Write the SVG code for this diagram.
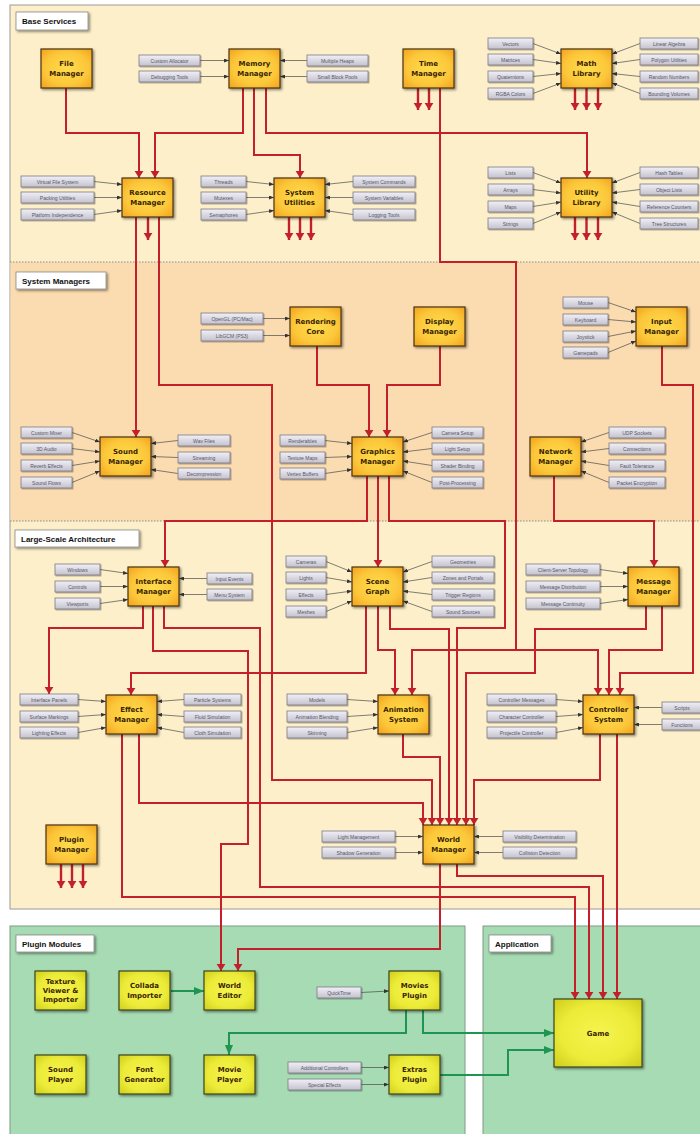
<svg xmlns="http://www.w3.org/2000/svg" width="700" height="1134" viewBox="0 0 700 1134">
<style>
.nd rect{fill:url(#og);stroke:#4a3514;stroke-width:1.2;filter:url(#sh)}
.gn rect{fill:url(#yg);stroke:#3b4520;stroke-width:1.2;filter:url(#sh)}
.nd text,.gn text{font-family:"DejaVu Sans",sans-serif;font-weight:bold;font-size:7px;fill:#3a2400;text-anchor:middle}
.it rect{fill:url(#gg);stroke:#7b7986;stroke-width:0.8;filter:url(#sh2)}
.it text{font-family:"Liberation Sans",sans-serif;font-size:5px;fill:#55556a;text-anchor:middle}
.hd rect{fill:#fff;stroke:#8a8a8a;stroke-width:0.8;filter:url(#sh)}
.hd text{font-family:"Liberation Sans",sans-serif;font-weight:bold;font-size:8px;fill:#111}
.r{fill:none;stroke:#c3202b;stroke-width:2;marker-end:url(#ra)}
.s{fill:none;stroke:#c3202b;stroke-width:2.4;marker-end:url(#ra)}
.g{fill:none;stroke:#1e9550;stroke-width:2;marker-end:url(#ka)}
.l{fill:none;stroke:#4a4a4a;stroke-width:0.7;marker-end:url(#la)}
</style>
<defs>
<radialGradient id="og" cx="50%" cy="50%" r="70%"><stop offset="0" stop-color="#ffdc4c"/><stop offset="0.6" stop-color="#fcc73a"/><stop offset="1" stop-color="#f2a21c"/></radialGradient>
<radialGradient id="yg" cx="50%" cy="50%" r="70%"><stop offset="0" stop-color="#f6f44e"/><stop offset="0.6" stop-color="#eceb38"/><stop offset="1" stop-color="#cfcd1c"/></radialGradient>
<linearGradient id="gg" x1="0" y1="0" x2="0" y2="1"><stop offset="0" stop-color="#f1f0f7"/><stop offset="1" stop-color="#c4c2cd"/></linearGradient>
<filter id="sh" x="-20%" y="-20%" width="150%" height="150%"><feDropShadow dx="1.5" dy="1.5" stdDeviation="1" flood-color="#000" flood-opacity="0.45"/></filter>
<filter id="sh2" x="-20%" y="-30%" width="150%" height="180%"><feDropShadow dx="1" dy="1" stdDeviation="0.6" flood-color="#000" flood-opacity="0.35"/></filter>
<marker id="ra" viewBox="0 0 8 10" refX="8" refY="5" markerWidth="7" markerHeight="10" markerUnits="userSpaceOnUse" orient="auto"><path d="M0,0 L8,5 L0,10 Z" fill="#c3202b" transform="rotate(0)"/></marker>
<marker id="ka" viewBox="0 0 10 8" refX="10" refY="4" markerWidth="10" markerHeight="8" markerUnits="userSpaceOnUse" orient="auto"><path d="M0,0 L10,4 L0,8 Z" fill="#1e9550"/></marker>
<marker id="la" viewBox="0 0 5 4" refX="5" refY="2" markerWidth="5" markerHeight="4" markerUnits="userSpaceOnUse" orient="auto"><path d="M0,0 L5,2 L0,4 Z" fill="#333"/></marker>
</defs>
<rect width="700" height="1134" fill="#fff"/>
<g id="panels">
<rect x="10" y="5" width="700" height="904" fill="#fcefc9" stroke="#9a9a9a"/>
<rect x="10.5" y="262" width="700" height="259" fill="#fbdcb0"/>
<path d="M10,262 H700 M10,521 H700" stroke="#8c8c8c" stroke-width="1" stroke-dasharray="1.5 1.5"/>
<rect x="10" y="926" width="455" height="220" fill="#a7dbb3" stroke="#7f9c86"/>
<rect x="483" y="926" width="230" height="220" fill="#a7dbb3" stroke="#7f9c86"/>
</g>
<g id="headers">
<g id="h-base" class="hd"><rect x="16" y="12" width="72" height="18"/><text x="22" y="24">Base Services</text></g>
<g id="h-sys" class="hd"><rect x="16" y="272" width="90" height="17"/><text x="22" y="284">System Managers</text></g>
<g id="h-large" class="hd"><rect x="15" y="530" width="124" height="17"/><text x="21" y="542">Large-Scale Architecture</text></g>
<g id="h-plugin" class="hd"><rect x="16" y="935" width="78" height="17"/><text x="22" y="947">Plugin Modules</text></g>
<g id="h-app" class="hd"><rect x="489" y="935" width="62" height="17"/><text x="495" y="947">Application</text></g>
</g>
<g id="connectors">
<path class="r" d="M66,88 V133 H139 V178"/>
<path class="r" d="M243,88 V133 H155 V178"/>
<path class="r" d="M254,88 V155 H300 V178"/>
<path class="r" d="M266,88 V133 H587 V178"/>
<path class="r" d="M440,88 V262 H516 V650 H412 V695"/>
<path class="r" d="M516,650 H598 V695"/>
<path class="s" d="M418,88 V110"/><path class="s" d="M429,88 V110"/>
<path class="s" d="M575,88 V110"/><path class="s" d="M586.5,88 V110"/><path class="s" d="M598,88 V110"/>
<path class="s" d="M148,217 V240"/>
<path class="s" d="M289,217 V240"/><path class="s" d="M300,217 V240"/><path class="s" d="M311,217 V240"/>
<path class="s" d="M575,217 V240"/><path class="s" d="M586.5,217 V240"/><path class="s" d="M598,217 V240"/>
<path class="s" d="M61,864 V888"/><path class="s" d="M72,864 V888"/><path class="s" d="M83,864 V888"/>
<path class="r" d="M136,217 V437"/>
<path class="r" d="M159,217 V385 H272 V780 H432 V825"/>
<path class="r" d="M317,346 V385 H369 V437"/>
<path class="r" d="M440,346 V385 H387 V437"/>
<path class="r" d="M662,346 V385 H693 V673 H620 V695"/>
<path class="r" d="M367,476 V521 H165 V567"/>
<path class="r" d="M378,476 V567"/>
<path class="r" d="M389,476 V521 H505 V628 H457 V825"/>
<path class="r" d="M554,476 V521 H654 V567"/>
<path class="r" d="M143,606 V628 H49 V694"/>
<path class="r" d="M153,606 V651 H248 V844 H221 V971"/>
<path class="r" d="M164,606 V628 H260 V887 H589 V999"/>
<path class="r" d="M366,606 V673 H131 V695"/>
<path class="r" d="M378,606 V650 H395 V695"/>
<path class="r" d="M390,606 V629 H449 V825"/>
<path class="r" d="M646,606 V629 H535 V673 H466 V825"/>
<path class="r" d="M662,606 V650 H609 V695"/>
<path class="r" d="M122,734 V897 H575 V999"/>
<path class="r" d="M139,734 V803 H423 V825"/>
<path class="r" d="M403,734 V757 H440 V825"/>
<path class="r" d="M600,734 V780 H474 V825"/>
<path class="r" d="M617,734 V999"/>
<path class="r" d="M440,864 V949 H238 V971"/>
<path class="r" d="M457,864 V876 H603 V999"/>
<path class="g" d="M171,991 H204"/>
<path class="g" d="M406,1010 V1033 H229 V1055"/>
<path class="g" d="M423,1010 V1033 H554"/>
<path class="g" d="M440,1075 H508 V1050 H554"/>
<path class="l" d="M200,60.5 L229,60.5"/><path class="l" d="M200,76.5 L229,76.5"/>
<path class="l" d="M307,60.5 L280,60.5"/><path class="l" d="M307,76.5 L280,76.5"/>
<path class="l" d="M533,43.5 L561,54"/><path class="l" d="M533,59.5 L561,63.5"/><path class="l" d="M533,76.5 L561,73.5"/><path class="l" d="M533,93.5 L561,83"/>
<path class="l" d="M640,43.5 L612,54"/><path class="l" d="M640,59.5 L612,63.5"/><path class="l" d="M640,76.5 L612,73.5"/><path class="l" d="M640,93.5 L612,83"/>
<path class="l" d="M94,181.5 L122,184.5"/><path class="l" d="M94,197.5 L122,197.5"/><path class="l" d="M94,214.5 L122,210.5"/>
<path class="l" d="M246,181.5 L274,184.5"/><path class="l" d="M246,197.5 L274,197.5"/><path class="l" d="M246,214.5 L274,210.5"/>
<path class="l" d="M353,181.5 L325,184.5"/><path class="l" d="M353,197.5 L325,197.5"/><path class="l" d="M353,214.5 L325,210.5"/>
<path class="l" d="M533,172.5 L561,183"/><path class="l" d="M533,189.5 L561,193"/><path class="l" d="M533,206.5 L561,202"/><path class="l" d="M533,223.5 L561,212"/>
<path class="l" d="M640,172.5 L612,183"/><path class="l" d="M640,189.5 L612,193"/><path class="l" d="M640,206.5 L612,202"/><path class="l" d="M640,223.5 L612,212"/>
<path class="l" d="M263,318.5 L290,318.5"/><path class="l" d="M263,335.5 L290,335.5"/>
<path class="l" d="M608,302.5 L636,312"/><path class="l" d="M608,319.5 L636,322"/><path class="l" d="M608,336.5 L636,331"/><path class="l" d="M608,352.5 L636,341"/>
<path class="l" d="M72,432.5 L100,442"/><path class="l" d="M72,448.5 L100,452"/><path class="l" d="M72,465.5 L100,461"/><path class="l" d="M72,482.5 L100,471"/>
<path class="l" d="M178,440.5 L151,443.5"/><path class="l" d="M178,457.5 L151,456.5"/><path class="l" d="M178,473.5 L151,469.5"/>
<path class="l" d="M325,440.5 L352,443.5"/><path class="l" d="M325,457.5 L352,456.5"/><path class="l" d="M325,473.5 L352,469.5"/>
<path class="l" d="M432,432.5 L403,442"/><path class="l" d="M432,448.5 L403,452"/><path class="l" d="M432,465.5 L403,461"/><path class="l" d="M432,482.5 L403,471"/>
<path class="l" d="M609,432.5 L581,442"/><path class="l" d="M609,448.5 L581,452"/><path class="l" d="M609,465.5 L581,461"/><path class="l" d="M609,482.5 L581,471"/>
<path class="l" d="M100,569.5 L128,573.5"/><path class="l" d="M100,586.5 L128,586.5"/><path class="l" d="M100,603.5 L128,599.5"/>
<path class="l" d="M207,578.5 L179,578.5"/><path class="l" d="M207,594.5 L179,594.5"/>
<path class="l" d="M326,561.5 L352,572"/><path class="l" d="M326,577.5 L352,582"/><path class="l" d="M326,594.5 L352,591"/><path class="l" d="M326,611.5 L352,601"/>
<path class="l" d="M432,561.5 L403,572"/><path class="l" d="M432,577.5 L403,582"/><path class="l" d="M432,594.5 L403,591"/><path class="l" d="M432,611.5 L403,601"/>
<path class="l" d="M600,569.5 L628,573.5"/><path class="l" d="M600,586.5 L628,586.5"/><path class="l" d="M600,603.5 L628,599.5"/>
<path class="l" d="M78,699.5 L106,701.5"/><path class="l" d="M78,716.5 L106,714.5"/><path class="l" d="M78,732.5 L106,727.5"/>
<path class="l" d="M184,699.5 L157,701.5"/><path class="l" d="M184,716.5 L157,714.5"/><path class="l" d="M184,732.5 L157,727.5"/>
<path class="l" d="M347,699.5 L378,701.5"/><path class="l" d="M347,716.5 L378,714.5"/><path class="l" d="M347,732.5 L378,727.5"/>
<path class="l" d="M556,699.5 L583,701.5"/><path class="l" d="M556,716.5 L583,714.5"/><path class="l" d="M556,732.5 L583,727.5"/>
<path class="l" d="M662,707.5 L634,707.5"/><path class="l" d="M662,724.5 L634,724.5"/>
<path class="l" d="M395,836.5 L423,836.5"/><path class="l" d="M395,852.5 L423,852.5"/>
<path class="l" d="M503,836.5 L474,836.5"/><path class="l" d="M503,852.5 L474,852.5"/>
<path class="l" d="M361,992.5 L389,991"/>
<path class="l" d="M361,1067.5 L389,1067.5"/><path class="l" d="M361,1084.5 L389,1084.5"/>
</g>
<g id="file-manager" class="nd"><rect x="41" y="49" width="51" height="39"/><text x="66.5" y="66">File</text><text x="66.5" y="76">Manager</text></g>
<g id="memory-manager" class="nd"><rect x="229" y="49" width="51" height="39"/><text x="254.5" y="66">Memory</text><text x="254.5" y="76">Manager</text></g>
<g id="time-manager" class="nd"><rect x="403" y="49" width="51" height="39"/><text x="428.5" y="66">Time</text><text x="428.5" y="76">Manager</text></g>
<g id="math-library" class="nd"><rect x="561" y="49" width="51" height="39"/><text x="586.5" y="66">Math</text><text x="586.5" y="76">Library</text></g>
<g id="resource-manager" class="nd"><rect x="122" y="178" width="51" height="39"/><text x="147.5" y="195">Resource</text><text x="147.5" y="205">Manager</text></g>
<g id="system-utilities" class="nd"><rect x="274" y="178" width="51" height="39"/><text x="299.5" y="195">System</text><text x="299.5" y="205">Utilities</text></g>
<g id="utility-library" class="nd"><rect x="561" y="178" width="51" height="39"/><text x="586.5" y="195">Utility</text><text x="586.5" y="205">Library</text></g>
<g id="rendering-core" class="nd"><rect x="290" y="307" width="51" height="39"/><text x="315.5" y="324">Rendering</text><text x="315.5" y="334">Core</text></g>
<g id="display-manager" class="nd"><rect x="414" y="307" width="51" height="39"/><text x="439.5" y="324">Display</text><text x="439.5" y="334">Manager</text></g>
<g id="input-manager" class="nd"><rect x="636" y="307" width="51" height="39"/><text x="661.5" y="324">Input</text><text x="661.5" y="334">Manager</text></g>
<g id="sound-manager" class="nd"><rect x="100" y="437" width="51" height="39"/><text x="125.5" y="454">Sound</text><text x="125.5" y="464">Manager</text></g>
<g id="graphics-manager" class="nd"><rect x="352" y="437" width="51" height="39"/><text x="377.5" y="454">Graphics</text><text x="377.5" y="464">Manager</text></g>
<g id="network-manager" class="nd"><rect x="530" y="437" width="51" height="39"/><text x="555.5" y="454">Network</text><text x="555.5" y="464">Manager</text></g>
<g id="interface-manager" class="nd"><rect x="128" y="567" width="51" height="39"/><text x="153.5" y="584">Interface</text><text x="153.5" y="594">Manager</text></g>
<g id="scene-graph" class="nd"><rect x="352" y="567" width="51" height="39"/><text x="377.5" y="584">Scene</text><text x="377.5" y="594">Graph</text></g>
<g id="message-manager" class="nd"><rect x="628" y="567" width="51" height="39"/><text x="653.5" y="584">Message</text><text x="653.5" y="594">Manager</text></g>
<g id="effect-manager" class="nd"><rect x="106" y="695" width="51" height="39"/><text x="131.5" y="712">Effect</text><text x="131.5" y="722">Manager</text></g>
<g id="animation-system" class="nd"><rect x="378" y="695" width="51" height="39"/><text x="403.5" y="712">Animation</text><text x="403.5" y="722">System</text></g>
<g id="controller-system" class="nd"><rect x="583" y="695" width="51" height="39"/><text x="608.5" y="712">Controller</text><text x="608.5" y="722">System</text></g>
<g id="plugin-manager" class="nd"><rect x="46" y="825" width="51" height="39"/><text x="71.5" y="842">Plugin</text><text x="71.5" y="852">Manager</text></g>
<g id="world-manager" class="nd"><rect x="423" y="825" width="51" height="39"/><text x="448.5" y="842">World</text><text x="448.5" y="852">Manager</text></g>
<g id="texture-viewer" class="gn"><rect x="35" y="971" width="51" height="39"/><text x="60.5" y="984">Texture</text><text x="60.5" y="993">Viewer &amp;</text><text x="60.5" y="1002">Importer</text></g>
<g id="collada-importer" class="gn"><rect x="119" y="971" width="51" height="39"/><text x="144.5" y="988">Collada</text><text x="144.5" y="998">Importer</text></g>
<g id="world-editor" class="gn"><rect x="204" y="971" width="51" height="39"/><text x="229.5" y="988">World</text><text x="229.5" y="998">Editor</text></g>
<g id="movies-plugin" class="gn"><rect x="389" y="971" width="51" height="39"/><text x="414.5" y="988">Movies</text><text x="414.5" y="998">Plugin</text></g>
<g id="sound-player" class="gn"><rect x="35" y="1055" width="51" height="39"/><text x="60.5" y="1072">Sound</text><text x="60.5" y="1082">Player</text></g>
<g id="font-generator" class="gn"><rect x="119" y="1055" width="51" height="39"/><text x="144.5" y="1072">Font</text><text x="144.5" y="1082">Generator</text></g>
<g id="movie-player" class="gn"><rect x="204" y="1055" width="51" height="39"/><text x="229.5" y="1072">Movie</text><text x="229.5" y="1082">Player</text></g>
<g id="extras-plugin" class="gn"><rect x="389" y="1055" width="51" height="39"/><text x="414.5" y="1072">Extras</text><text x="414.5" y="1082">Plugin</text></g>
<g id="game" class="gn"><rect x="554" y="999" width="88" height="68"/><text x="598" y="1036">Game</text></g>
<g id="items">
<g id="i-custom-allocator" class="it"><rect x="139" y="55" width="61" height="11"/><text x="169.5" y="62.5">Custom Allocator</text></g>
<g id="i-debugging-tools" class="it"><rect x="139" y="71" width="61" height="11"/><text x="169.5" y="78.5">Debugging Tools</text></g>
<g id="i-multiple-heaps" class="it"><rect x="307" y="55" width="61" height="11"/><text x="337.5" y="62.5">Multiple Heaps</text></g>
<g id="i-small-block-pools" class="it"><rect x="307" y="71" width="61" height="11"/><text x="337.5" y="78.5">Small Block Pools</text></g>
<g id="i-vectors" class="it"><rect x="488" y="38" width="45" height="11"/><text x="510.5" y="45.5">Vectors</text></g>
<g id="i-matrices" class="it"><rect x="488" y="54" width="45" height="11"/><text x="510.5" y="61.5">Matrices</text></g>
<g id="i-quaternions" class="it"><rect x="488" y="71" width="45" height="11"/><text x="510.5" y="78.5">Quaternions</text></g>
<g id="i-rgba-colors" class="it"><rect x="488" y="88" width="45" height="11"/><text x="510.5" y="95.5">RGBA Colors</text></g>
<g id="i-linear-algebra" class="it"><rect x="640" y="38" width="58" height="11"/><text x="669" y="45.5">Linear Algebra</text></g>
<g id="i-polygon-utilities" class="it"><rect x="640" y="54" width="58" height="11"/><text x="669" y="61.5">Polygon Utilities</text></g>
<g id="i-random-numbers" class="it"><rect x="640" y="71" width="58" height="11"/><text x="669" y="78.5">Random Numbers</text></g>
<g id="i-bounding-volumes" class="it"><rect x="640" y="88" width="58" height="11"/><text x="669" y="95.5">Bounding Volumes</text></g>
<g id="i-virtual-file-system" class="it"><rect x="21" y="176" width="73" height="11"/><text x="57.5" y="183.5">Virtual File System</text></g>
<g id="i-packing-utilities" class="it"><rect x="21" y="192" width="73" height="11"/><text x="57.5" y="199.5">Packing Utilities</text></g>
<g id="i-platform-independence" class="it"><rect x="21" y="209" width="73" height="11"/><text x="57.5" y="216.5">Platform Independence</text></g>
<g id="i-threads" class="it"><rect x="201" y="176" width="45" height="11"/><text x="223.5" y="183.5">Threads</text></g>
<g id="i-mutexes" class="it"><rect x="201" y="192" width="45" height="11"/><text x="223.5" y="199.5">Mutexes</text></g>
<g id="i-semaphores" class="it"><rect x="201" y="209" width="45" height="11"/><text x="223.5" y="216.5">Semaphores</text></g>
<g id="i-system-commands" class="it"><rect x="353" y="176" width="62" height="11"/><text x="384" y="183.5">System Commands</text></g>
<g id="i-system-variables" class="it"><rect x="353" y="192" width="62" height="11"/><text x="384" y="199.5">System Variables</text></g>
<g id="i-logging-tools" class="it"><rect x="353" y="209" width="62" height="11"/><text x="384" y="216.5">Logging Tools</text></g>
<g id="i-lists" class="it"><rect x="488" y="167" width="45" height="11"/><text x="510.5" y="174.5">Lists</text></g>
<g id="i-arrays" class="it"><rect x="488" y="184" width="45" height="11"/><text x="510.5" y="191.5">Arrays</text></g>
<g id="i-maps" class="it"><rect x="488" y="201" width="45" height="11"/><text x="510.5" y="208.5">Maps</text></g>
<g id="i-strings" class="it"><rect x="488" y="218" width="45" height="11"/><text x="510.5" y="225.5">Strings</text></g>
<g id="i-hash-tables" class="it"><rect x="640" y="167" width="58" height="11"/><text x="669" y="174.5">Hash Tables</text></g>
<g id="i-object-lists" class="it"><rect x="640" y="184" width="58" height="11"/><text x="669" y="191.5">Object Lists</text></g>
<g id="i-reference-counters" class="it"><rect x="640" y="201" width="58" height="11"/><text x="669" y="208.5">Reference Counters</text></g>
<g id="i-tree-structures" class="it"><rect x="640" y="218" width="58" height="11"/><text x="669" y="225.5">Tree Structures</text></g>
<g id="i-opengl" class="it"><rect x="201" y="313" width="62" height="11"/><text x="232" y="320.5">OpenGL (PC/Mac)</text></g>
<g id="i-libgcm" class="it"><rect x="201" y="330" width="62" height="11"/><text x="232" y="337.5">LibGCM (PS3)</text></g>
<g id="i-mouse" class="it"><rect x="563" y="297" width="45" height="11"/><text x="585.5" y="304.5">Mouse</text></g>
<g id="i-keyboard" class="it"><rect x="563" y="314" width="45" height="11"/><text x="585.5" y="321.5">Keyboard</text></g>
<g id="i-joystick" class="it"><rect x="563" y="331" width="45" height="11"/><text x="585.5" y="338.5">Joystick</text></g>
<g id="i-gamepads" class="it"><rect x="563" y="347" width="45" height="11"/><text x="585.5" y="354.5">Gamepads</text></g>
<g id="i-custom-mixer" class="it"><rect x="21" y="427" width="51" height="11"/><text x="46.5" y="434.5">Custom Mixer</text></g>
<g id="i-3d-audio" class="it"><rect x="21" y="443" width="51" height="11"/><text x="46.5" y="450.5">3D Audio</text></g>
<g id="i-reverb-effects" class="it"><rect x="21" y="460" width="51" height="11"/><text x="46.5" y="467.5">Reverb Effects</text></g>
<g id="i-sound-flows" class="it"><rect x="21" y="477" width="51" height="11"/><text x="46.5" y="484.5">Sound Flows</text></g>
<g id="i-wav-files" class="it"><rect x="178" y="435" width="52" height="11"/><text x="204" y="442.5">Wav Files</text></g>
<g id="i-streaming" class="it"><rect x="178" y="452" width="52" height="11"/><text x="204" y="459.5">Streaming</text></g>
<g id="i-decompression" class="it"><rect x="178" y="468" width="52" height="11"/><text x="204" y="475.5">Decompression</text></g>
<g id="i-renderables" class="it"><rect x="280" y="435" width="45" height="11"/><text x="302.5" y="442.5">Renderables</text></g>
<g id="i-texture-maps" class="it"><rect x="280" y="452" width="45" height="11"/><text x="302.5" y="459.5">Texture Maps</text></g>
<g id="i-vertex-buffers" class="it"><rect x="280" y="468" width="45" height="11"/><text x="302.5" y="475.5">Vertex Buffers</text></g>
<g id="i-camera-setup" class="it"><rect x="432" y="427" width="51" height="11"/><text x="457.5" y="434.5">Camera Setup</text></g>
<g id="i-light-setup" class="it"><rect x="432" y="443" width="51" height="11"/><text x="457.5" y="450.5">Light Setup</text></g>
<g id="i-shader-binding" class="it"><rect x="432" y="460" width="51" height="11"/><text x="457.5" y="467.5">Shader Binding</text></g>
<g id="i-post-processing" class="it"><rect x="432" y="477" width="51" height="11"/><text x="457.5" y="484.5">Post-Processing</text></g>
<g id="i-udp-sockets" class="it"><rect x="609" y="427" width="56" height="11"/><text x="637" y="434.5">UDP Sockets</text></g>
<g id="i-connections" class="it"><rect x="609" y="443" width="56" height="11"/><text x="637" y="450.5">Connections</text></g>
<g id="i-fault-tolerance" class="it"><rect x="609" y="460" width="56" height="11"/><text x="637" y="467.5">Fault Tolerance</text></g>
<g id="i-packet-encryption" class="it"><rect x="609" y="477" width="56" height="11"/><text x="637" y="484.5">Packet Encryption</text></g>
<g id="i-windows" class="it"><rect x="55" y="564" width="45" height="11"/><text x="77.5" y="571.5">Windows</text></g>
<g id="i-controls" class="it"><rect x="55" y="581" width="45" height="11"/><text x="77.5" y="588.5">Controls</text></g>
<g id="i-viewports" class="it"><rect x="55" y="598" width="45" height="11"/><text x="77.5" y="605.5">Viewports</text></g>
<g id="i-input-events" class="it"><rect x="207" y="573" width="45" height="11"/><text x="229.5" y="580.5">Input Events</text></g>
<g id="i-menu-system" class="it"><rect x="207" y="589" width="45" height="11"/><text x="229.5" y="596.5">Menu System</text></g>
<g id="i-cameras" class="it"><rect x="286" y="556" width="40" height="11"/><text x="306" y="563.5">Cameras</text></g>
<g id="i-lights" class="it"><rect x="286" y="572" width="40" height="11"/><text x="306" y="579.5">Lights</text></g>
<g id="i-effects" class="it"><rect x="286" y="589" width="40" height="11"/><text x="306" y="596.5">Effects</text></g>
<g id="i-meshes" class="it"><rect x="286" y="606" width="40" height="11"/><text x="306" y="613.5">Meshes</text></g>
<g id="i-geometries" class="it"><rect x="432" y="556" width="62" height="11"/><text x="463" y="563.5">Geometries</text></g>
<g id="i-zones-portals" class="it"><rect x="432" y="572" width="62" height="11"/><text x="463" y="579.5">Zones and Portals</text></g>
<g id="i-trigger-regions" class="it"><rect x="432" y="589" width="62" height="11"/><text x="463" y="596.5">Trigger Regions</text></g>
<g id="i-sound-sources" class="it"><rect x="432" y="606" width="62" height="11"/><text x="463" y="613.5">Sound Sources</text></g>
<g id="i-client-server" class="it"><rect x="526" y="564" width="74" height="11"/><text x="563" y="571.5">Client-Server Topology</text></g>
<g id="i-message-distribution" class="it"><rect x="526" y="581" width="74" height="11"/><text x="563" y="588.5">Message Distribution</text></g>
<g id="i-message-continuity" class="it"><rect x="526" y="598" width="74" height="11"/><text x="563" y="605.5">Message Continuity</text></g>
<g id="i-interface-panels" class="it"><rect x="20" y="694" width="58" height="11"/><text x="49" y="701.5">Interface Panels</text></g>
<g id="i-surface-markings" class="it"><rect x="20" y="711" width="58" height="11"/><text x="49" y="718.5">Surface Markings</text></g>
<g id="i-lighting-effects" class="it"><rect x="20" y="727" width="58" height="11"/><text x="49" y="734.5">Lighting Effects</text></g>
<g id="i-particle-systems" class="it"><rect x="184" y="694" width="57" height="11"/><text x="212.5" y="701.5">Particle Systems</text></g>
<g id="i-fluid-simulation" class="it"><rect x="184" y="711" width="57" height="11"/><text x="212.5" y="718.5">Fluid Simulation</text></g>
<g id="i-cloth-simulation" class="it"><rect x="184" y="727" width="57" height="11"/><text x="212.5" y="734.5">Cloth Simulation</text></g>
<g id="i-models" class="it"><rect x="287" y="694" width="60" height="11"/><text x="317" y="701.5">Models</text></g>
<g id="i-animation-blending" class="it"><rect x="287" y="711" width="60" height="11"/><text x="317" y="718.5">Animation Blending</text></g>
<g id="i-skinning" class="it"><rect x="287" y="727" width="60" height="11"/><text x="317" y="734.5">Skinning</text></g>
<g id="i-controller-messages" class="it"><rect x="487" y="694" width="69" height="11"/><text x="521.5" y="701.5">Controller Messages</text></g>
<g id="i-character-controller" class="it"><rect x="487" y="711" width="69" height="11"/><text x="521.5" y="718.5">Character Controller</text></g>
<g id="i-projectile-controller" class="it"><rect x="487" y="727" width="69" height="11"/><text x="521.5" y="734.5">Projectile Controller</text></g>
<g id="i-scripts" class="it"><rect x="662" y="702" width="40" height="11"/><text x="682" y="709.5">Scripts</text></g>
<g id="i-functions" class="it"><rect x="662" y="719" width="40" height="11"/><text x="682" y="726.5">Functions</text></g>
<g id="i-light-management" class="it"><rect x="322" y="831" width="73" height="11"/><text x="358.5" y="838.5">Light Management</text></g>
<g id="i-shadow-generation" class="it"><rect x="322" y="847" width="73" height="11"/><text x="358.5" y="854.5">Shadow Generation</text></g>
<g id="i-visibility-determination" class="it"><rect x="503" y="831" width="73" height="11"/><text x="539.5" y="838.5">Visibility Determination</text></g>
<g id="i-collision-detection" class="it"><rect x="503" y="847" width="73" height="11"/><text x="539.5" y="854.5">Collision Detection</text></g>
<g id="i-quicktime" class="it"><rect x="317" y="987" width="44" height="11"/><text x="339" y="994.5">QuickTime</text></g>
<g id="i-additional-controllers" class="it"><rect x="288" y="1062" width="73" height="11"/><text x="324.5" y="1069.5">Additional Controllers</text></g>
<g id="i-special-effects" class="it"><rect x="288" y="1079" width="73" height="11"/><text x="324.5" y="1086.5">Special Effects</text></g>
</g>
</svg>
